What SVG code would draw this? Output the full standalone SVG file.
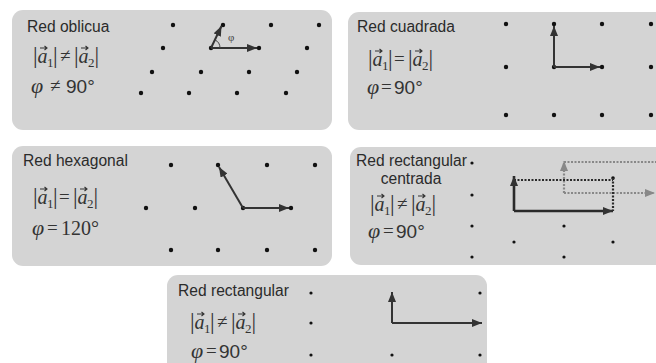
<svg xmlns="http://www.w3.org/2000/svg" width="656" height="363" viewBox="0 0 656 363">
<defs>
<style>
.bg{fill:#d4d4d4}
.ttl{font-family:"Liberation Sans",Arial,sans-serif;font-size:15.6px;fill:#2b2b2b}
.f{font-family:"Liberation Serif","Times New Roman",serif;font-size:23px;fill:#333}
.a{font-style:italic;font-size:20px}
.s{font-size:13px}
.o{font-size:19px}
.vec{stroke:#333;stroke-width:1.1;fill:none}
.num{font-family:"Liberation Sans",Arial,sans-serif;font-size:19px;fill:#333}
.ph{font-family:"Liberation Serif","Times New Roman",serif;font-size:22px;font-style:italic;fill:#333}
.op{font-family:"Liberation Serif","Times New Roman",serif;font-size:19px;fill:#333}
.dot{fill:#111}
.v{stroke:#333;stroke-width:2;fill:none}
.vb{stroke:#2a2a2a;stroke-width:2.6;fill:none}
.dd{stroke:#2a2a2a;stroke-width:2.2;stroke-dasharray:2 1.5;fill:none}
.dg{stroke:#888;stroke-width:2.2;stroke-dasharray:2 1.5;fill:none}
</style>
<path id="vr" class="vec" d="M7,-15 h7 M11.5,-17 l2.5,2 l-2.5,2"/>
<marker id="ah" viewBox="0 0 10 8" refX="10" refY="4" markerWidth="10" markerHeight="8" markerUnits="userSpaceOnUse" orient="auto"><path d="M0,0 L10,4 L0,8 z" fill="#333"/></marker>
<marker id="ahg" viewBox="0 0 10 8" refX="10" refY="4" markerWidth="10" markerHeight="8" markerUnits="userSpaceOnUse" orient="auto"><path d="M0,0 L10,4 L0,8 z" fill="#888"/></marker>
</defs>

<g id="oblicua">
<rect class="bg" x="12" y="10" width="320" height="120" rx="11"/>
<text class="ttl" x="27" y="32">Red oblicua</text>
<g transform="translate(33,63)">
<text class="f"><tspan x="0" y="0">|</tspan><tspan class="a" x="4.5" y="0">a</tspan><tspan class="s" x="14" y="4">1</tspan><tspan x="20" y="0">|</tspan><tspan class="o" x="27" y="-1">≠</tspan><tspan x="41" y="0">|</tspan><tspan class="a" x="45.5" y="0">a</tspan><tspan class="s" x="55" y="4">2</tspan><tspan x="61.5" y="0">|</tspan></text>
<use href="#vr"/><use href="#vr" x="41"/>
</g>
<text class="ph" x="31" y="93">φ</text><text class="op" x="50" y="92">≠</text><text class="num" x="66" y="93">90°</text>
<g class="dot">
<circle cx="173" cy="25" r="2.2"/><circle cx="223" cy="25" r="2.2"/><circle cx="271" cy="25" r="2.2"/><circle cx="319" cy="25" r="2.2"/>
<circle cx="163" cy="48" r="2.2"/><circle cx="211" cy="48" r="2.2"/><circle cx="259" cy="48" r="2.2"/><circle cx="307" cy="48" r="2.2"/>
<circle cx="152" cy="72" r="2.2"/><circle cx="201" cy="72" r="2.2"/><circle cx="249" cy="72" r="2.2"/><circle cx="297" cy="72" r="2.2"/>
<circle cx="141" cy="93" r="2.2"/><circle cx="189" cy="93" r="2.2"/><circle cx="237" cy="93" r="2.2"/><circle cx="286" cy="93" r="2.2"/>
</g>
<text x="228" y="41" style="font-family:'Liberation Serif',serif;font-size:11px;fill:#444">φ</text>
</g>

<g id="cuadrada">
<rect class="bg" x="348" y="12" width="330" height="118" rx="11"/>
<text class="ttl" x="357" y="32">Red cuadrada</text>
<g transform="translate(368,66)">
<text class="f"><tspan x="0" y="0">|</tspan><tspan class="a" x="4.5" y="0">a</tspan><tspan class="s" x="14" y="4">1</tspan><tspan x="20" y="0">|</tspan><tspan class="o" x="26" y="-1">=</tspan><tspan x="40" y="0">|</tspan><tspan class="a" x="44.5" y="0">a</tspan><tspan class="s" x="54" y="4">2</tspan><tspan x="60.5" y="0">|</tspan></text>
<use href="#vr"/><use href="#vr" x="40"/>
</g>
<text class="ph" x="367" y="94">φ</text><text class="op" x="381" y="93">=</text><text class="num" x="394" y="94">90°</text>
<g class="dot">
<circle cx="506" cy="24" r="2.2"/><circle cx="554" cy="24" r="2.2"/><circle cx="602" cy="24" r="2.2"/><circle cx="651" cy="24" r="2.2"/>
<circle cx="506" cy="67" r="2.2"/><circle cx="554" cy="67" r="2.2"/><circle cx="602" cy="67" r="2.2"/><circle cx="651" cy="67" r="2.2"/>
<circle cx="506" cy="115" r="2.2"/><circle cx="554" cy="115" r="2.2"/><circle cx="602" cy="115" r="2.2"/><circle cx="651" cy="115" r="2.2"/>
</g>
</g>

<g id="hexagonal">
<rect class="bg" x="12" y="146" width="320" height="120" rx="11"/>
<text class="ttl" x="23" y="166">Red hexagonal</text>
<g transform="translate(33,204)">
<text class="f"><tspan x="0" y="0">|</tspan><tspan class="a" x="4.5" y="0">a</tspan><tspan class="s" x="14" y="4">1</tspan><tspan x="20" y="0">|</tspan><tspan class="o" x="26" y="-1">=</tspan><tspan x="40" y="0">|</tspan><tspan class="a" x="44.5" y="0">a</tspan><tspan class="s" x="54" y="4">2</tspan><tspan x="60.5" y="0">|</tspan></text>
<use href="#vr"/><use href="#vr" x="40"/>
</g>
<text class="ph" x="32" y="235">φ</text><text class="op" x="47" y="234">=</text><text x="61" y="235" style="font-family:'Liberation Serif',serif;font-size:20px;fill:#333">120°</text>
<g class="dot">
<circle cx="171" cy="165" r="2.2"/><circle cx="218" cy="165" r="2.2"/><circle cx="267" cy="165" r="2.2"/><circle cx="315" cy="165" r="2.2"/>
<circle cx="146" cy="208" r="2.2"/><circle cx="195" cy="208" r="2.2"/><circle cx="243" cy="208" r="2.2"/><circle cx="291" cy="208" r="2.2"/>
<circle cx="171" cy="250" r="2.2"/><circle cx="218" cy="250" r="2.2"/><circle cx="267" cy="250" r="2.2"/><circle cx="315" cy="250" r="2.2"/>
</g>
</g>

<g id="rect-centrada">
<rect class="bg" x="350" y="147" width="330" height="118" rx="11"/>
<text class="ttl" x="356" y="166">Red rectangular</text>
<text class="ttl" x="411" y="184" text-anchor="middle">centrada</text>
<g transform="translate(370,211)">
<text class="f"><tspan x="0" y="0">|</tspan><tspan class="a" x="4.5" y="0">a</tspan><tspan class="s" x="14" y="4">1</tspan><tspan x="20" y="0">|</tspan><tspan class="o" x="27" y="-1">≠</tspan><tspan x="41" y="0">|</tspan><tspan class="a" x="45.5" y="0">a</tspan><tspan class="s" x="55" y="4">2</tspan><tspan x="61.5" y="0">|</tspan></text>
<use href="#vr"/><use href="#vr" x="41"/>
</g>
<text class="ph" x="368" y="238">φ</text><text class="op" x="383" y="237">=</text><text class="num" x="396" y="238">90°</text>
<g class="dot">
<circle cx="472" cy="163" r="1.6"/><circle cx="472" cy="195" r="1.6"/><circle cx="472" cy="226" r="1.6"/><circle cx="472" cy="257" r="1.6"/>
<circle cx="564" cy="226" r="1.6"/><circle cx="564" cy="257" r="1.6"/>
<circle cx="514" cy="242" r="1.6"/><circle cx="613" cy="242" r="1.6"/><circle cx="613" cy="178" r="1.8"/>
</g>
</g>

<g id="rectangular">
<rect class="bg" x="167" y="275" width="320" height="110" rx="11"/>
<text class="ttl" x="178" y="296">Red rectangular</text>
<g transform="translate(190,329)">
<text class="f"><tspan x="0" y="0">|</tspan><tspan class="a" x="4.5" y="0">a</tspan><tspan class="s" x="14" y="4">1</tspan><tspan x="20" y="0">|</tspan><tspan class="o" x="27" y="-1">≠</tspan><tspan x="41" y="0">|</tspan><tspan class="a" x="45.5" y="0">a</tspan><tspan class="s" x="55" y="4">2</tspan><tspan x="61.5" y="0">|</tspan></text>
<use href="#vr"/><use href="#vr" x="41"/>
</g>
<text class="ph" x="191" y="358">φ</text><text class="op" x="206" y="357">=</text><text class="num" x="219" y="358">90°</text>
<g class="dot">
<circle cx="311" cy="293" r="1.6"/><circle cx="311" cy="323" r="1.6"/><circle cx="311" cy="355" r="1.6"/>
<circle cx="392" cy="355" r="1.6"/><circle cx="480" cy="293" r="1.6"/><circle cx="480" cy="355" r="1.6"/>
</g>
</g>

<g id="vectors">
<line class="v" x1="211" y1="48" x2="257" y2="48" marker-end="url(#ah)"/>
<line class="v" x1="211" y1="48" x2="221.5" y2="26" marker-end="url(#ah)"/>
<path d="M220,48 A9,9 0 0 0 214.8,39.8" stroke="#444" stroke-width="1" fill="none"/>
<line class="v" x1="554" y1="67" x2="600" y2="67" marker-end="url(#ah)"/>
<line class="v" x1="554" y1="67" x2="554" y2="26" marker-end="url(#ah)"/>
<line class="v" x1="243" y1="208" x2="289" y2="208" marker-end="url(#ah)"/>
<line class="v" x1="243" y1="208" x2="219" y2="167" marker-end="url(#ah)"/>
<line class="dg" x1="564" y1="162" x2="656" y2="162"/>
<line class="dg" x1="564" y1="193" x2="655" y2="193" marker-end="url(#ahg)"/>
<line class="dg" x1="564" y1="193" x2="564" y2="161" marker-end="url(#ahg)"/>
<line class="dd" x1="514" y1="180" x2="613" y2="180"/>
<line class="dd" x1="613" y1="178" x2="613" y2="211"/>
<line class="vb" x1="514" y1="211" x2="613" y2="211" marker-end="url(#ah)"/>
<line class="vb" x1="514" y1="211" x2="514" y2="176" marker-end="url(#ah)"/>
<line class="v" x1="392" y1="323" x2="482" y2="323" marker-end="url(#ah)"/>
<line class="v" x1="392" y1="323" x2="392" y2="292" marker-end="url(#ah)"/>
</g>
</svg>
